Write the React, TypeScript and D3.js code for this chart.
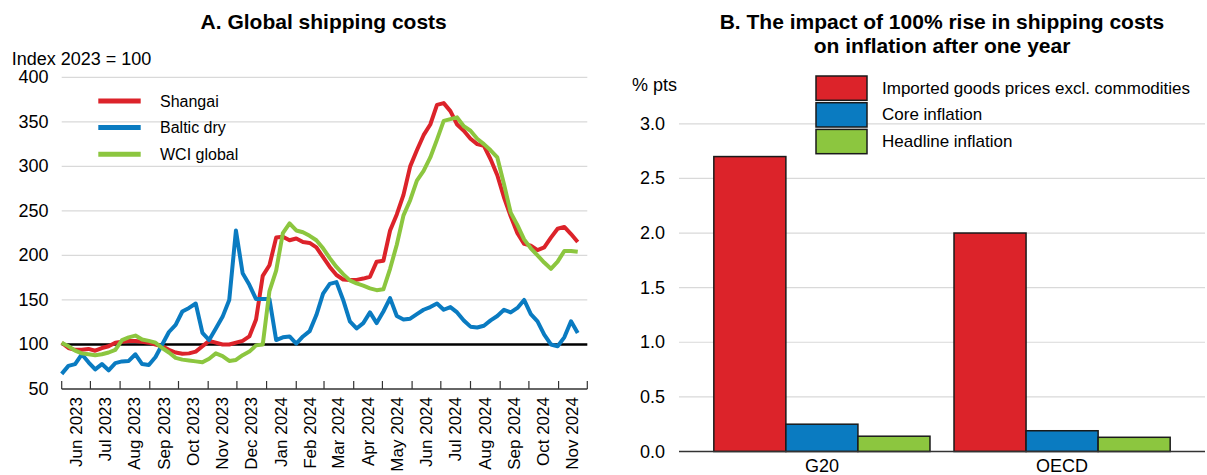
import React, { useEffect, useRef } from "react";
import * as d3 from "d3";

// weekly observations, first week starting 1 Jun 2023
const startDate = new Date(2023, 5, 1);

const shanghai = [
  102, 96, 94, 94, 95, 93, 96, 98, 102, 103, 104, 104, 103, 102, 100, 98, 94, 91, 89.5, 90,
  92, 98, 104, 102, 100, 100, 102, 104, 109, 128, 177, 189, 220, 221, 217, 219, 215, 214, 209, 198,
  187, 178, 173, 172.5, 172.5, 174, 176, 193, 194, 228, 246, 268, 300, 318, 335, 347, 369, 371, 362, 347,
  340, 331, 325, 323, 308, 290, 265, 244, 225, 213, 211, 206, 209, 220, 230, 232, 224, 215,
];

const balticDry = [
  67, 76, 78, 89, 80, 72, 78, 71, 79, 81, 81.5, 89, 78, 77, 86, 100, 114, 122, 137, 141,
  146, 113, 105, 118, 131, 150, 228, 180, 167, 151, 151, 151, 105, 108, 109, 101, 109, 115, 133, 157,
  168, 170, 150, 126, 118, 124, 136, 124, 137, 152, 132, 128, 129, 134, 139, 142, 146, 139, 142, 136,
  127, 120, 119, 121, 127, 132, 139, 136, 141, 150, 134, 126, 111, 100, 98, 108, 126, 113,
];

const wciGlobal = [
  102, 98, 93, 90, 89, 88, 89, 91, 94, 105, 108, 110, 105.5, 104, 102, 96, 91, 85, 83, 82,
  81, 80, 84, 90, 87, 81.5, 82.6, 88, 92, 99, 100, 160, 183, 225, 236, 228, 226, 222, 217, 208,
  197, 187, 179, 172, 168.5, 166, 163, 161, 162, 185, 212, 245, 262, 284, 295, 310, 330, 351, 353, 355,
  345, 340, 331, 325, 318, 310, 280, 248, 234, 218, 208, 200, 192, 185, 193, 205, 205, 204,
];

const lineSeries = [
  { name: "Shangai", values: shanghai, color: "#dc232a" },
  { name: "Baltic dry", values: balticDry, color: "#0a7bc1" },
  { name: "WCI global", values: wciGlobal, color: "#8cc63f" },
];
const leftTicks = [50, 100, 150, 200, 250, 300, 350, 400];

// panel B
const regions = ["G20", "OECD"];
const barSeries = ["Imported goods prices excl. commodities", "Core inflation", "Headline inflation"];
const barColors = ["#dc232a", "#0a7bc1", "#8cc63f"];
const importedGoods = [2.7, 2.0];
const coreInflation = [0.25, 0.19];
const headlineInflation = [0.14, 0.13];
const rightTicks = [0, 0.5, 1, 1.5, 2, 2.5, 3];

const font = "'Liberation Sans', Arial, Helvetica, sans-serif";

export default function App() {
  const ref = useRef<SVGSVGElement>(null);

  useEffect(() => {
    const svg = d3.select(ref.current);
    svg.selectAll("*").remove();
    svg.attr("font-family", font);

    // ---------- A. Global shipping costs ----------
    const x = d3
      .scaleTime()
      .domain([startDate, new Date(2024, 11, 1)])
      .range([61.7, 587.3]);
    const y = d3.scaleLinear().domain([50, 400]).range([389, 77.3]);
    const dates = shanghai.map((_, i) => d3.timeDay.offset(startDate, 7 * i));

    svg.append("text")
      .attr("x", 323.7).attr("y", 29)
      .attr("text-anchor", "middle")
      .attr("font-size", 21).attr("font-weight", "bold")
      .text("A. Global shipping costs");

    svg.append("text")
      .attr("x", 11.7).attr("y", 65)
      .attr("font-size", 18)
      .text("Index 2023 = 100");

    const gl = svg.append("g");
    gl.selectAll("line.grid")
      .data(leftTicks.filter((t) => t > 50))
      .enter().append("line")
      .attr("x1", x.range()[0]).attr("x2", x.range()[1])
      .attr("y1", (d) => y(d)).attr("y2", (d) => y(d))
      .attr("stroke", "#d9d9d9").attr("stroke-width", 1.2);

    gl.selectAll("text.ytick")
      .data(leftTicks)
      .enter().append("text")
      .attr("x", 48.5).attr("y", (d) => y(d))
      .attr("text-anchor", "end").attr("dominant-baseline", "central")
      .attr("font-size", 18)
      .text((d) => d);

    // x axis at 50 with inward ticks
    const months = d3.timeMonth.range(startDate, new Date(2024, 11, 2));
    gl.append("line")
      .attr("x1", x.range()[0]).attr("x2", x.range()[1])
      .attr("y1", y(50)).attr("y2", y(50))
      .attr("stroke", "#333").attr("stroke-width", 1.5);
    gl.selectAll("line.xtick")
      .data(months)
      .enter().append("line")
      .attr("x1", (d) => x(d)).attr("x2", (d) => x(d))
      .attr("y1", y(50)).attr("y2", y(50) - 8)
      .attr("stroke", "#333").attr("stroke-width", 1.2);
    const fmt = d3.timeFormat("%b %Y");
    gl.selectAll("text.xlab")
      .data(months.slice(0, -1))
      .enter().append("text")
      .attr("transform", (d) => {
        const cx = (x(d) + x(d3.timeMonth.offset(d, 1))) / 2;
        return `translate(${cx},${y(50) + 8}) rotate(-90)`;
      })
      .attr("text-anchor", "end").attr("dominant-baseline", "central")
      .attr("font-size", 17)
      .text((d) => fmt(d));

    // reference line at 100
    gl.append("line")
      .attr("x1", x.range()[0]).attr("x2", x.range()[1])
      .attr("y1", y(100)).attr("y2", y(100))
      .attr("stroke", "#000").attr("stroke-width", 2.5);

    const line = d3.line<number>()
      .x((_, i) => x(dates[i]))
      .y((d) => y(d));
    lineSeries.forEach((s) => {
      gl.append("path")
        .datum(s.values)
        .attr("d", line)
        .attr("fill", "none")
        .attr("stroke", s.color)
        .attr("stroke-width", 4)
        .attr("stroke-linejoin", "round");
    });

    // legend
    lineSeries.forEach((s, i) => {
      const ly = 101 + i * 26.6;
      gl.append("line")
        .attr("x1", 98.3).attr("x2", 140.7)
        .attr("y1", ly).attr("y2", ly)
        .attr("stroke", s.color).attr("stroke-width", 5);
      gl.append("text")
        .attr("x", 160).attr("y", ly)
        .attr("dominant-baseline", "central")
        .attr("font-size", 16)
        .text(s.name);
    });

    // ---------- B. Impact on inflation ----------
    const x0 = d3.scaleBand().domain(regions).range([679, 1205]).paddingInner(0.1).paddingOuter(0.145);
    const x1 = d3.scaleBand().domain(barSeries).range([0, x0.bandwidth()]);
    const yr = d3.scaleLinear().domain([0, 3]).range([451.5, 123.8]);
    const barValues = [importedGoods, coreInflation, headlineInflation];

    const title = svg.append("text")
      .attr("text-anchor", "middle")
      .attr("font-size", 21).attr("font-weight", "bold");
    title.append("tspan").attr("x", 942).attr("y", 29).text("B. The impact of 100% rise in shipping costs");
    title.append("tspan").attr("x", 942).attr("y", 53).text("on inflation after one year");

    const gr = svg.append("g");
    gr.append("text")
      .attr("x", 632).attr("y", 90.5)
      .attr("font-size", 18)
      .text("% pts");

    gr.selectAll("line.grid")
      .data(rightTicks.filter((t) => t > 0))
      .enter().append("line")
      .attr("x1", 679).attr("x2", 1205)
      .attr("y1", (d) => yr(d)).attr("y2", (d) => yr(d))
      .attr("stroke", "#d9d9d9").attr("stroke-width", 1.2);
    gr.selectAll("text.ytick")
      .data(rightTicks)
      .enter().append("text")
      .attr("x", 665).attr("y", (d) => yr(d))
      .attr("text-anchor", "end").attr("dominant-baseline", "central")
      .attr("font-size", 18)
      .text((d) => d3.format(".1f")(d));

    regions.forEach((r, ri) => {
      barSeries.forEach((s, si) => {
        const v = barValues[si][ri];
        gr.append("rect")
          .attr("x", (x0(r) as number) + (x1(s) as number))
          .attr("y", yr(v))
          .attr("width", x1.bandwidth())
          .attr("height", yr(0) - yr(v))
          .attr("fill", barColors[si])
          .attr("stroke", "#1a1a1a").attr("stroke-width", 1.5);
      });
      gr.append("text")
        .attr("x", (x0(r) as number) + x0.bandwidth() / 2)
        .attr("y", 472)
        .attr("text-anchor", "middle")
        .attr("font-size", 18)
        .text(r);
    });

    gr.append("line")
      .attr("x1", 679).attr("x2", 1205)
      .attr("y1", yr(0)).attr("y2", yr(0))
      .attr("stroke", "#333").attr("stroke-width", 1.5);

    barSeries.forEach((s, i) => {
      const top = 76 + i * 26.7;
      gr.append("rect")
        .attr("x", 816).attr("y", top)
        .attr("width", 51).attr("height", 24.3)
        .attr("fill", barColors[i])
        .attr("stroke", "#1a1a1a").attr("stroke-width", 1.5);
      gr.append("text")
        .attr("x", 882).attr("y", top + 12.2)
        .attr("dominant-baseline", "central")
        .attr("font-size", 17)
        .text(s);
    });
  }, []);

  return (
    <svg
      ref={ref}
      width={1207}
      height={475}
      style={{ position: "absolute", left: 0, top: 0, background: "#fff" }}
    />
  );
}
